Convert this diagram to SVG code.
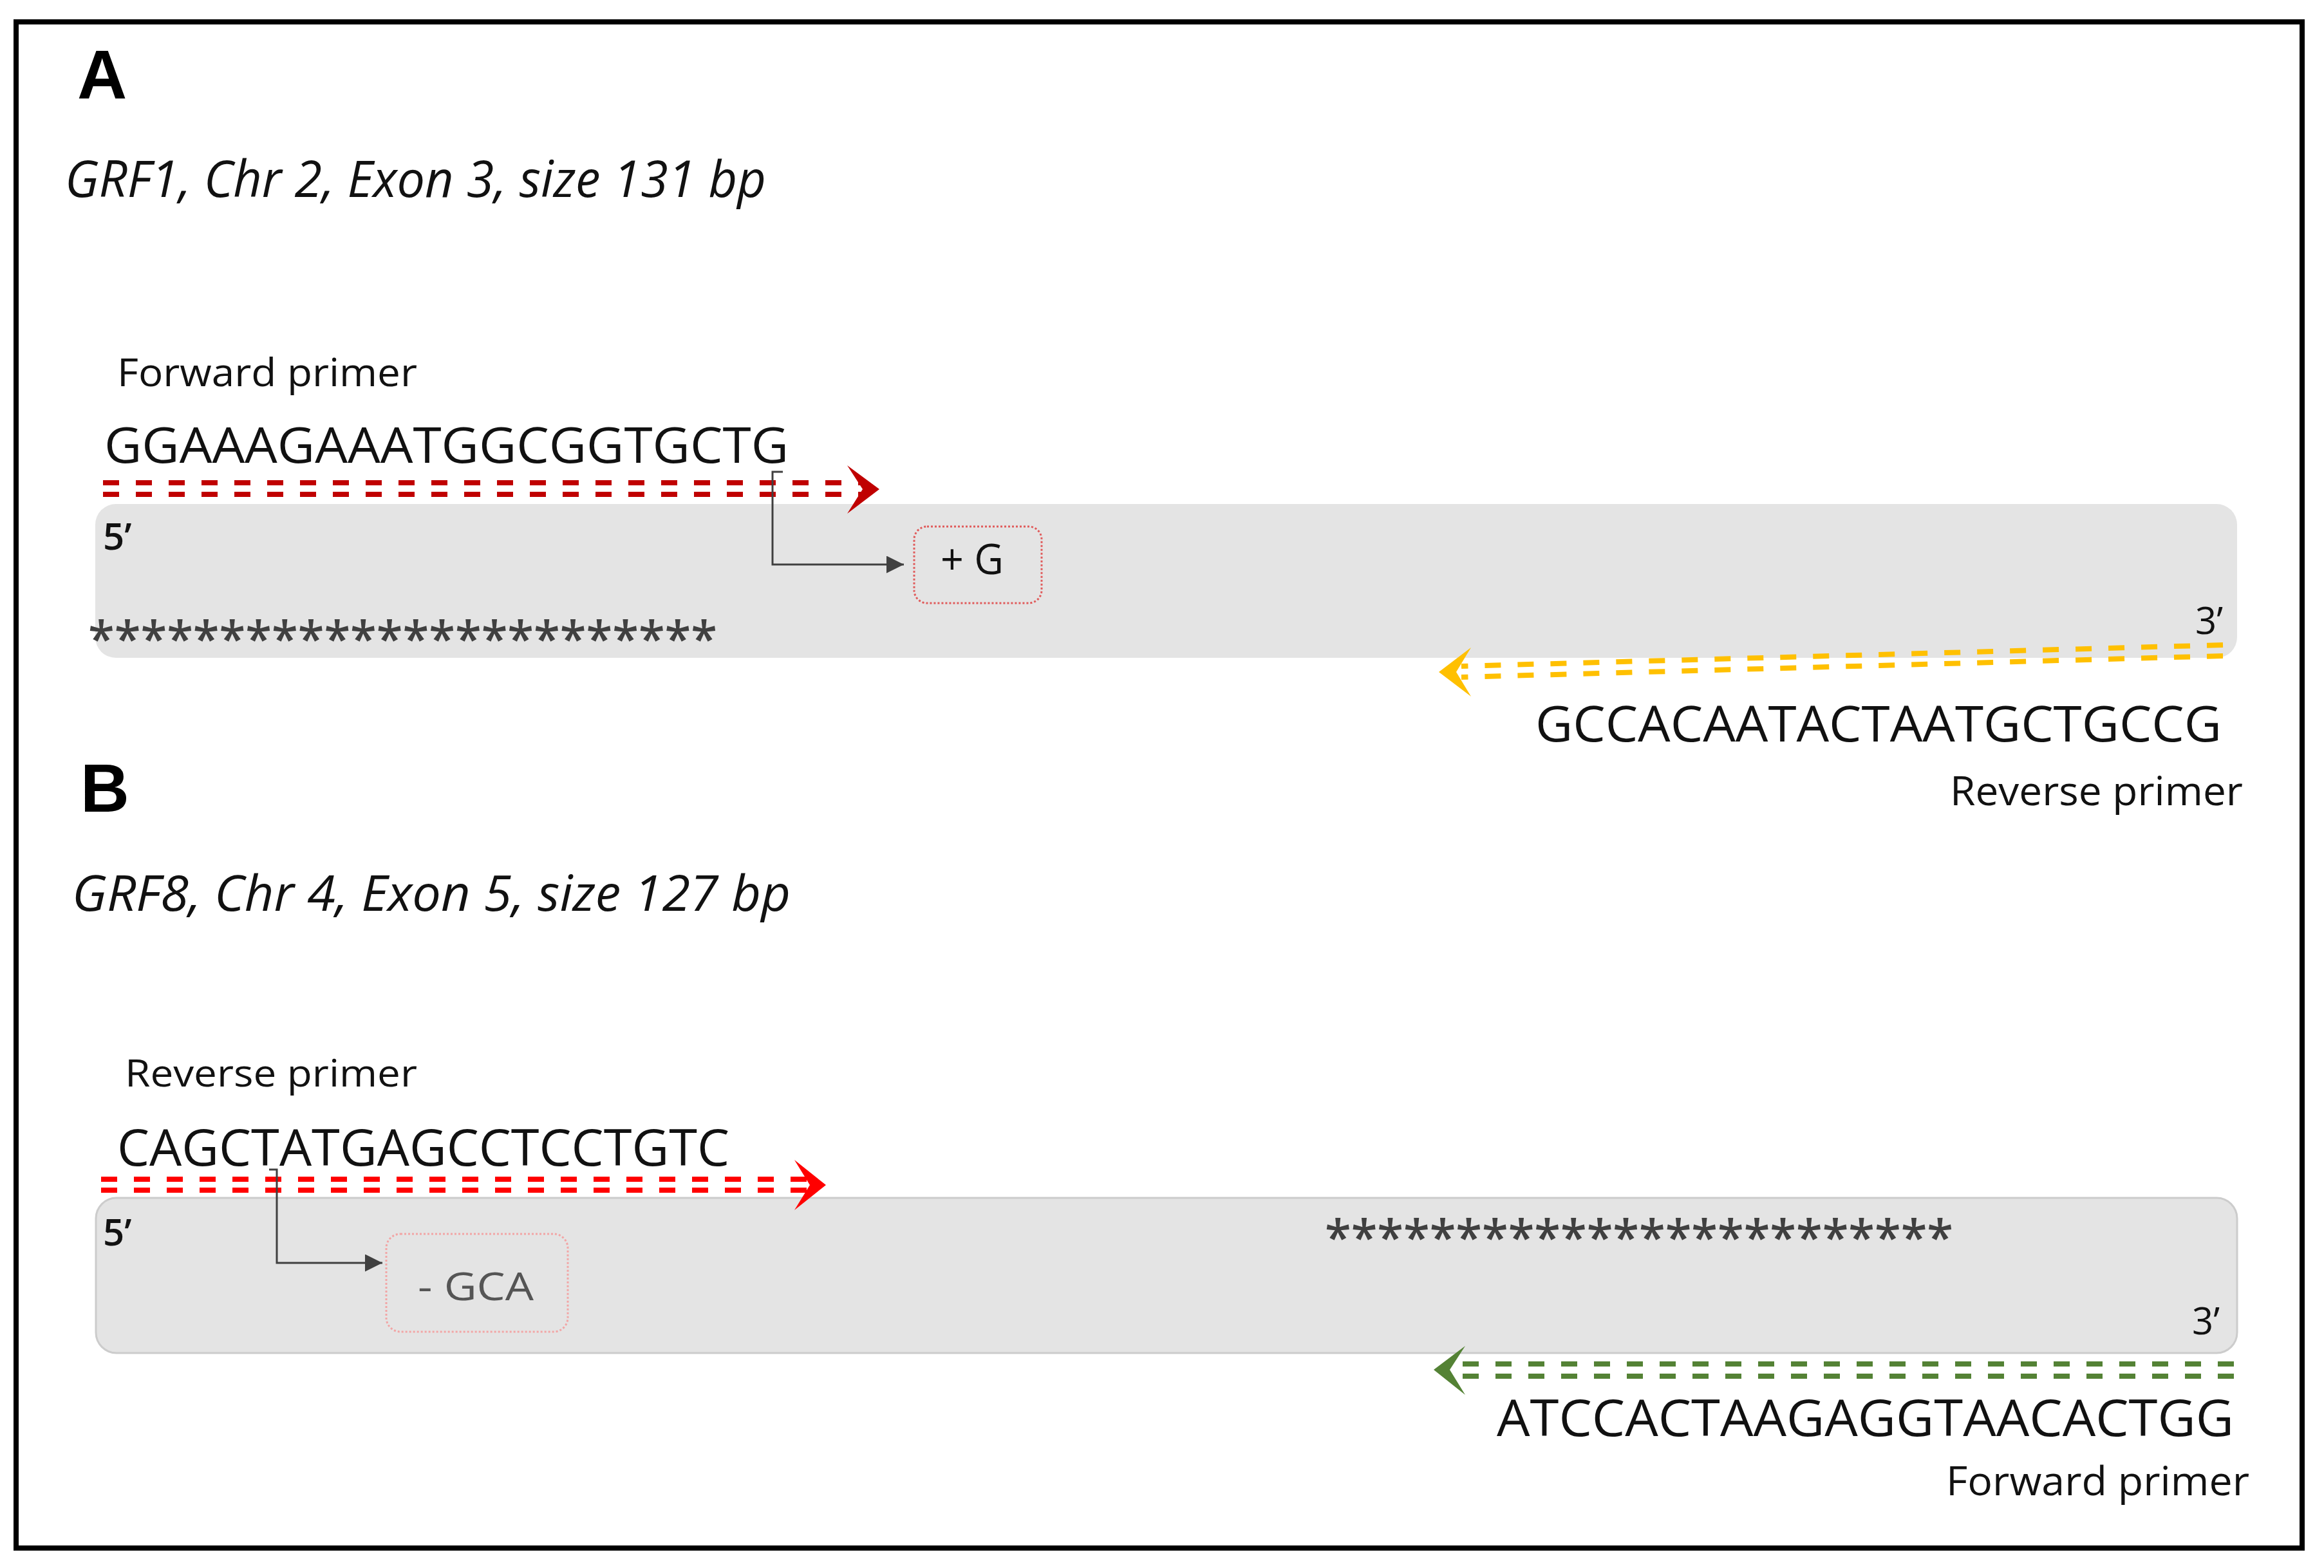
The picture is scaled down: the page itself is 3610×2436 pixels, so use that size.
<svg xmlns="http://www.w3.org/2000/svg" width="3610" height="2436" viewBox="0 0 3610 2436">
<style>
.t{font-family:"Open Sans","Noto Sans","Liberation Sans",sans-serif;fill:#111}
.it{font-style:italic}
.end{font-weight:600}
.lbl{font-family:"Liberation Sans",Arial,sans-serif;font-weight:bold;fill:#000}
.strand{fill:#E4E4E4}
.ast{font-family:"Open Sans","Noto Sans",sans-serif;fill:#404040;font-weight:600}
.dash{fill:none;stroke-width:8;stroke-dasharray:25 26}
.conn{fill:none;stroke:#404040;stroke-width:3}
.mut{fill:none;stroke-width:3;stroke-dasharray:3 3}
</style>
<defs>
<marker id="ah" viewBox="0 0 10 10" refX="10" refY="5" markerWidth="10" markerHeight="9" markerUnits="strokeWidth" orient="auto">
<path d="M0,0 L10,5 L0,10 z" fill="#404040"/>
</marker>
</defs>
<rect width="3610" height="2436" fill="#fff"/>
<rect x="25" y="34" width="3551" height="2371" fill="none" stroke="#000" stroke-width="8"/>

<g id="panelA">
<text class="lbl" x="120" y="153" font-size="107">A</text>
<text class="t it" x="101" y="306" font-size="78" textLength="1089" lengthAdjust="spacingAndGlyphs">GRF1, Chr 2, Exon 3, size 131 bp</text>
</g>
<g id="strandA">
<rect class="strand" x="148" y="783" width="3327" height="239" rx="32"/>
<text class="t end" x="160" y="854" font-size="58">5’</text>
<text class="t" x="3410" y="985" font-size="58">3’</text>
<text class="ast" x="137" y="1019" font-size="76" textLength="977" lengthAdjust="spacingAndGlyphs">************************</text>
</g>
<g id="fwdPrimerA">
<text class="t" x="182" y="600" font-size="60" textLength="466" lengthAdjust="spacingAndGlyphs">Forward primer</text>
<text class="t" x="162" y="719" font-size="76" textLength="1063" lengthAdjust="spacingAndGlyphs">GGAAAGAAATGGCGGTGCTG</text>
</g>
<g id="mutA">
<rect class="mut" x="1420" y="818" width="198" height="119" rx="20" stroke="#E05A5A"/>
<text class="t" x="1461" y="892" font-size="66" textLength="98" lengthAdjust="spacingAndGlyphs">+ G</text>
</g>
<g id="revPrimerA">
<text class="t" x="2385" y="1152" font-size="77" textLength="1066" lengthAdjust="spacingAndGlyphs">GCCACAATACTAATGCTGCCG</text>
<text class="t" x="3029" y="1251" font-size="62" textLength="455" lengthAdjust="spacingAndGlyphs">Reverse primer</text>
</g>

<g id="panelB">
<text class="lbl" x="125" y="1261" font-size="105">B</text>
<text class="t it" x="112" y="1415" font-size="76" textLength="1116" lengthAdjust="spacingAndGlyphs">GRF8, Chr 4, Exon 5, size 127 bp</text>
</g>
<g id="strandB">
<rect class="strand" x="149" y="1861" width="3326" height="241" rx="32" stroke="#CCCCCC" stroke-width="3"/>
<text class="t end" x="160" y="1935" font-size="58">5’</text>
<text class="t" x="3405" y="2073" font-size="58">3’</text>
<text class="ast" x="2058" y="1949" font-size="76" textLength="976" lengthAdjust="spacingAndGlyphs">************************</text>
</g>
<g id="revPrimerB">
<text class="t" x="194" y="1688" font-size="58" textLength="454" lengthAdjust="spacingAndGlyphs">Reverse primer</text>
<text class="t" x="182" y="1811" font-size="78" textLength="951" lengthAdjust="spacingAndGlyphs">CAGCTATGAGCCTCCTGTC</text>
</g>
<g id="mutB">
<rect class="mut" x="600" y="1917" width="282" height="152" rx="22" stroke="#F2A5A5"/>
<text class="t" x="649" y="2020" font-size="60" style="fill:#555" textLength="180" lengthAdjust="spacingAndGlyphs">- GCA</text>
</g>
<g id="fwdPrimerB">
<text class="t" x="2325" y="2231" font-size="78" textLength="1145" lengthAdjust="spacingAndGlyphs">ATCCACTAAGAGGTAACACTGG</text>
<text class="t" x="3023" y="2323" font-size="62" textLength="471" lengthAdjust="spacingAndGlyphs">Forward primer</text>
</g>

<g id="connectors">
<line class="dash" x1="160" y1="750" x2="1342" y2="750" stroke="#C00000"/>
<line class="dash" x1="160" y1="768" x2="1342" y2="768" stroke="#C00000"/>
<path d="M1366,760 L1316,723 L1340,760 L1316,798 Z" fill="#C00000"/>
<line class="dash" x1="3453" y1="1002" x2="2270" y2="1035" stroke="#FFC000"/>
<line class="dash" x1="3453" y1="1019" x2="2270" y2="1052" stroke="#FFC000"/>
<path d="M2235,1044 L2285,1006 L2262,1044 L2285,1082 Z" fill="#FFC000"/>
<polyline class="conn" points="1216,733 1200,733 1200,877 1404,877" marker-end="url(#ah)"/>
<line class="dash" x1="157" y1="1832" x2="1256" y2="1832" stroke="#FF0000"/>
<line class="dash" x1="157" y1="1849" x2="1256" y2="1849" stroke="#FF0000"/>
<path d="M1283,1841 L1234,1802 L1258,1841 L1234,1880 Z" fill="#FF0000"/>
<line class="dash" x1="3470" y1="2119" x2="2262" y2="2119" stroke="#548235"/>
<line class="dash" x1="3470" y1="2138" x2="2262" y2="2138" stroke="#548235"/>
<path d="M2227,2128 L2276,2091 L2252,2128 L2276,2167 Z" fill="#548235"/>
<polyline class="conn" points="418,1817 430,1817 430,1962 594,1962" marker-end="url(#ah)"/>
</g>
</svg>
